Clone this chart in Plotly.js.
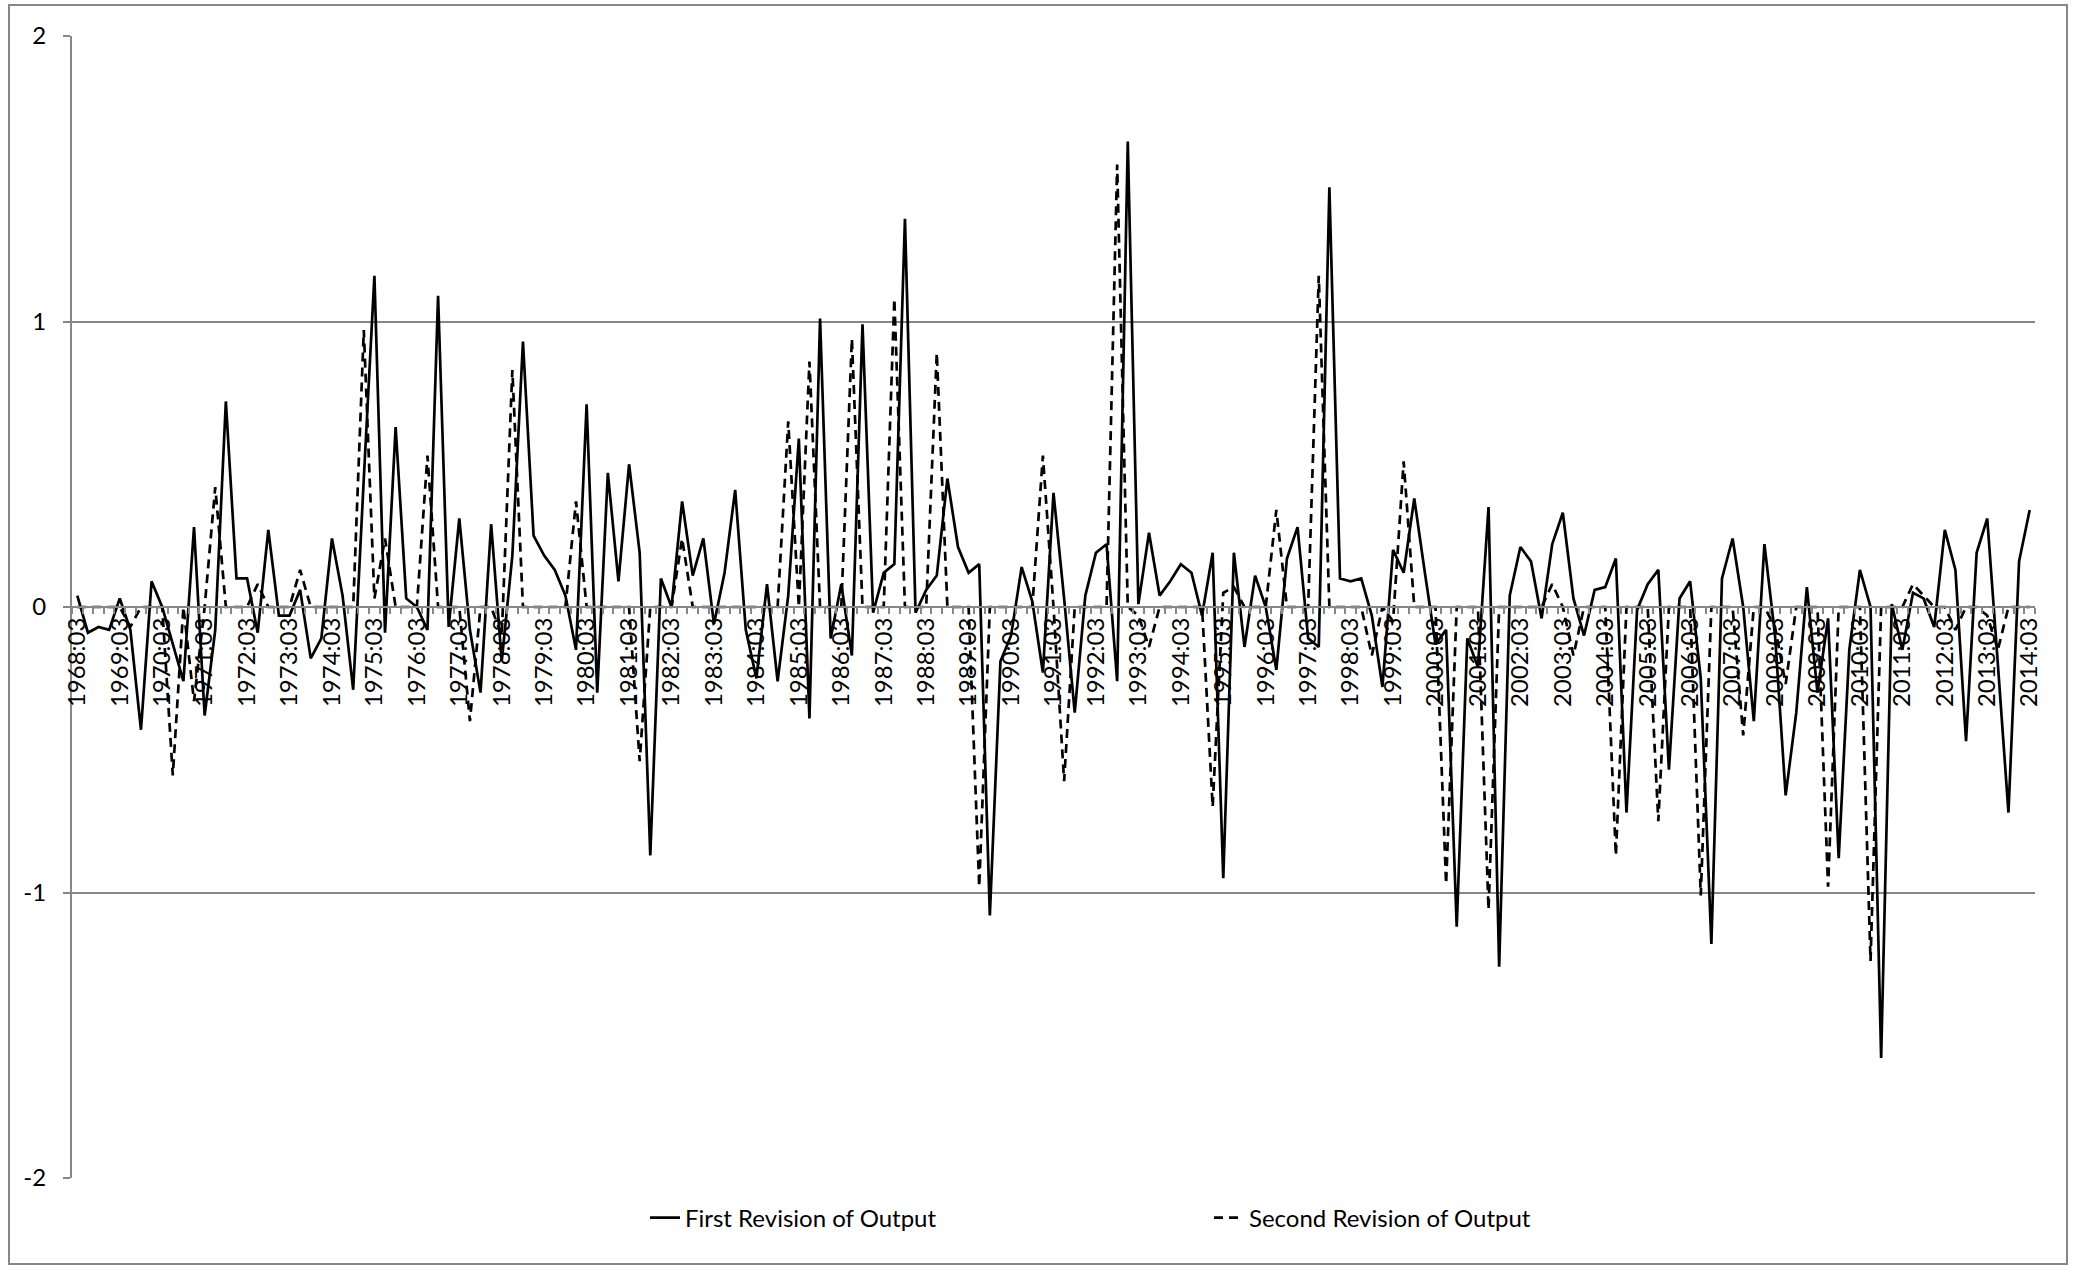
<!DOCTYPE html>
<html>
<head>
<meta charset="utf-8">
<script src="https://cdn.plot.ly/plotly-3.0.1.min.js"></script>
<style>html,body{margin:0;padding:0;background:#fff;}#chart{width:2076px;height:1269px;}</style>
</head>
<body>
<div id="chart"></div>
<script>
const categories = [
'1968:03','1968:04',
'1969:01','1969:02','1969:03','1969:04',
'1970:01','1970:02','1970:03','1970:04',
'1971:01','1971:02','1971:03','1971:04',
'1972:01','1972:02','1972:03','1972:04',
'1973:01','1973:02','1973:03','1973:04',
'1974:01','1974:02','1974:03','1974:04',
'1975:01','1975:02','1975:03','1975:04',
'1976:01','1976:02','1976:03','1976:04',
'1977:01','1977:02','1977:03','1977:04',
'1978:01','1978:02','1978:03','1978:04',
'1979:01','1979:02','1979:03','1979:04',
'1980:01','1980:02','1980:03','1980:04',
'1981:01','1981:02','1981:03','1981:04',
'1982:01','1982:02','1982:03','1982:04',
'1983:01','1983:02','1983:03','1983:04',
'1984:01','1984:02','1984:03','1984:04',
'1985:01','1985:02','1985:03','1985:04',
'1986:01','1986:02','1986:03','1986:04',
'1987:01','1987:02','1987:03','1987:04',
'1988:01','1988:02','1988:03','1988:04',
'1989:01','1989:02','1989:03','1989:04',
'1990:01','1990:02','1990:03','1990:04',
'1991:01','1991:02','1991:03','1991:04',
'1992:01','1992:02','1992:03','1992:04',
'1993:01','1993:02','1993:03','1993:04',
'1994:01','1994:02','1994:03','1994:04',
'1995:01','1995:02','1995:03','1995:04',
'1996:01','1996:02','1996:03','1996:04',
'1997:01','1997:02','1997:03','1997:04',
'1998:01','1998:02','1998:03','1998:04',
'1999:01','1999:02','1999:03','1999:04',
'2000:01','2000:02','2000:03','2000:04',
'2001:01','2001:02','2001:03','2001:04',
'2002:01','2002:02','2002:03','2002:04',
'2003:01','2003:02','2003:03','2003:04',
'2004:01','2004:02','2004:03','2004:04',
'2005:01','2005:02','2005:03','2005:04',
'2006:01','2006:02','2006:03','2006:04',
'2007:01','2007:02','2007:03','2007:04',
'2008:01','2008:02','2008:03','2008:04',
'2009:01','2009:02','2009:03','2009:04',
'2010:01','2010:02','2010:03','2010:04',
'2011:01','2011:02','2011:03','2011:04',
'2012:01','2012:02','2012:03','2012:04',
'2013:01','2013:02','2013:03','2013:04',
'2014:01','2014:02','2014:03'
];

// Labels shown under the axis (every fourth quarter)
const shownLabels = [
'1968:03','1969:03','1970:03','1971:03','1972:03','1973:03','1974:03','1975:03',
'1976:03','1977:03','1978:03','1979:03','1980:03','1981:03','1982:03','1983:03',
'1984:03','1985:03','1986:03','1987:03','1988:03','1989:03','1990:03','1991:03',
'1992:03','1993:03','1994:03','1995:03','1996:03','1997:03','1998:03','1999:03',
'2000:03','2001:03','2002:03','2003:03','2004:03','2005:03','2006:03','2007:03',
'2008:03','2009:03','2010:03','2011:03','2012:03','2013:03','2014:03'
];

const firstRevision = [
 0.04,-0.09,-0.07,-0.08, 0.03,-0.08,-0.43, 0.09, 0.00,-0.13,
-0.26, 0.28,-0.38,-0.08, 0.72, 0.10, 0.10,-0.09, 0.27,-0.03,
-0.03, 0.06,-0.18,-0.11, 0.24, 0.04,-0.29, 0.45, 1.16,-0.09,
 0.63, 0.03, 0.00,-0.08, 1.09,-0.07, 0.31,-0.08,-0.30, 0.29,
-0.19, 0.18, 0.93, 0.25, 0.18, 0.13, 0.04,-0.15, 0.71,-0.30,
 0.47, 0.09, 0.50, 0.19,-0.87, 0.10, 0.00, 0.37, 0.11, 0.24,
-0.06, 0.12, 0.41,-0.08,-0.25, 0.08,-0.26, 0.04, 0.59,-0.39,
 1.01,-0.11, 0.08,-0.17, 0.99,-0.02, 0.12, 0.15, 1.36,-0.02,
 0.06, 0.11, 0.45, 0.21, 0.12, 0.15,-1.08,-0.19,-0.10, 0.14,
 0.02,-0.23, 0.40, 0.03,-0.37, 0.04, 0.19, 0.22,-0.26, 1.63,
 0.01, 0.26, 0.04, 0.09, 0.15, 0.12,-0.03, 0.19,-0.95, 0.19,
-0.14, 0.11, 0.00,-0.22, 0.17, 0.28,-0.11,-0.14, 1.47, 0.10,
 0.09, 0.10,-0.03,-0.28, 0.20, 0.12, 0.38, 0.12,-0.13,-0.08,
-1.12,-0.11,-0.21, 0.35,-1.26, 0.04, 0.21, 0.16,-0.04, 0.22,
 0.33, 0.03,-0.10, 0.06, 0.07, 0.17,-0.72,-0.01, 0.08, 0.13,
-0.57, 0.03, 0.09,-0.25,-1.18, 0.10, 0.24, 0.00,-0.40, 0.22,
-0.10,-0.66,-0.37, 0.07,-0.30,-0.04,-0.88,-0.15, 0.13, 0.00,
-1.58, 0.01,-0.15, 0.05, 0.03,-0.07, 0.27, 0.13,-0.47, 0.19,
 0.31,-0.20,-0.72, 0.16, 0.34
];

const secondRevision = [
 0.00, 0.00, 0.00, 0.00, 0.00,-0.07, 0.00, 0.00, 0.00,-0.59,
 0.00,-0.33, 0.00, 0.42, 0.00, 0.00, 0.00, 0.08, 0.00, 0.00,
 0.00, 0.13, 0.00, 0.00, 0.00, 0.00, 0.00, 0.97, 0.03, 0.24,
 0.00, 0.00, 0.00, 0.53, 0.00, 0.00, 0.00,-0.40, 0.00, 0.00,
-0.10, 0.83, 0.00, 0.00, 0.00, 0.00, 0.00, 0.37, 0.00, 0.00,
 0.00, 0.00, 0.00,-0.54, 0.00, 0.00, 0.00, 0.24, 0.00, 0.00,
 0.00, 0.00, 0.00, 0.00, 0.00, 0.00, 0.00, 0.65, 0.00, 0.86,
 0.00, 0.00, 0.00, 0.94, 0.00, 0.00, 0.00, 1.08, 0.00, 0.00,
 0.00, 0.89, 0.00, 0.00, 0.00,-0.98, 0.00, 0.00, 0.00, 0.00,
 0.00, 0.53, 0.00,-0.61, 0.00, 0.00, 0.00, 0.00, 1.55, 0.00,
-0.03,-0.14, 0.00, 0.00, 0.00, 0.00, 0.00,-0.70, 0.05, 0.07,
 0.00, 0.00, 0.00, 0.34, 0.00, 0.00, 0.00, 1.16, 0.00, 0.00,
 0.00, 0.00,-0.17, 0.00,-0.05, 0.51, 0.00, 0.00, 0.00,-0.97,
 0.00, 0.00, 0.00,-1.06, 0.00, 0.00, 0.00, 0.00, 0.00, 0.08,
 0.00,-0.17, 0.00, 0.00, 0.00,-0.87, 0.00, 0.00, 0.00,-0.75,
 0.00, 0.00, 0.00,-1.01, 0.00, 0.00, 0.00,-0.45, 0.00, 0.00,
-0.07,-0.27, 0.00, 0.00, 0.00,-0.98, 0.00, 0.00, 0.00,-1.24,
 0.00, 0.00, 0.00, 0.08, 0.04, 0.00, 0.00,-0.08, 0.00, 0.00,
-0.03,-0.15, 0.00, 0.00, 0.00
];

const yTickVals = [-2, -1, 0, 1, 2];
const yTickText = ['-2', '-1', '0', '1', '2'];
const seriesNames = ['First Revision of Output', 'Second Revision of Output'];

const tickText = categories.map(c => shownLabels.includes(c) ? c : '');
const gray = '#878787';

const traces = [
  {x: categories, y: firstRevision, type: 'scatter', mode: 'lines', name: seriesNames[0],
   line: {color: '#000000', width: 2.7}},
  {x: categories, y: secondRevision, type: 'scatter', mode: 'lines', name: seriesNames[1],
   line: {color: '#000000', width: 2.7, dash: '9px,6px'}}
];

const W = 2076, H = 1269, L = 72, R = 41, T = 36, B = 91;
const pw = W - L - R, ph = H - T - B;
const px = v => (v - L) / pw;
const py = v => (H - B - v) / ph;

const layout = {
  width: W, height: H,
  margin: {l: L, r: R, t: T, b: B, pad: 0},
  paper_bgcolor: '#ffffff', plot_bgcolor: '#ffffff',
  font: {family: 'Lato, sans-serif', size: 24, color: '#000000'},
  showlegend: true,
  legend: {orientation: 'h', x: px(645), xanchor: 'left', y: py(1218), yanchor: 'middle',
           entrywidth: 519, entrywidthmode: 'pixels', font: {size: 24, color: '#000000'},
           bgcolor: 'rgba(0,0,0,0)', traceorder: 'normal'},
  xaxis: {type: 'category', range: [-0.5, categories.length - 0.5],
          tickmode: 'array', tickvals: categories, ticktext: tickText,
          tickson: 'boundaries', ticks: 'outside', ticklen: 6, tickwidth: 2, tickcolor: gray,
          showline: true, linecolor: gray, linewidth: 2,
          anchor: 'free', position: 0.5, tickangle: -90,
          showgrid: false, zeroline: false, automargin: false,
          tickfont: {size: 24, color: '#000000'}},
  yaxis: {range: [-2, 2], tickmode: 'array', tickvals: yTickVals, ticktext: yTickText,
          showgrid: true, gridcolor: gray, gridwidth: 2, zeroline: false,
          showline: true, linecolor: gray, linewidth: 2,
          ticks: 'outside', ticklen: 7, tickwidth: 2, tickcolor: gray,
          ticklabelstandoff: 12, automargin: false,
          tickfont: {size: 24, color: '#000000'}},
  shapes: [
    {type: 'rect', xref: 'paper', yref: 'paper', x0: px(9), x1: px(2067), y0: py(1264), y1: py(5),
     line: {color: gray, width: 2}, fillcolor: 'rgba(0,0,0,0)', layer: 'below'}
  ]
};

Plotly.newPlot('chart', traces, layout, {staticPlot: true, displayModeBar: false});
</script>
</body>
</html>
